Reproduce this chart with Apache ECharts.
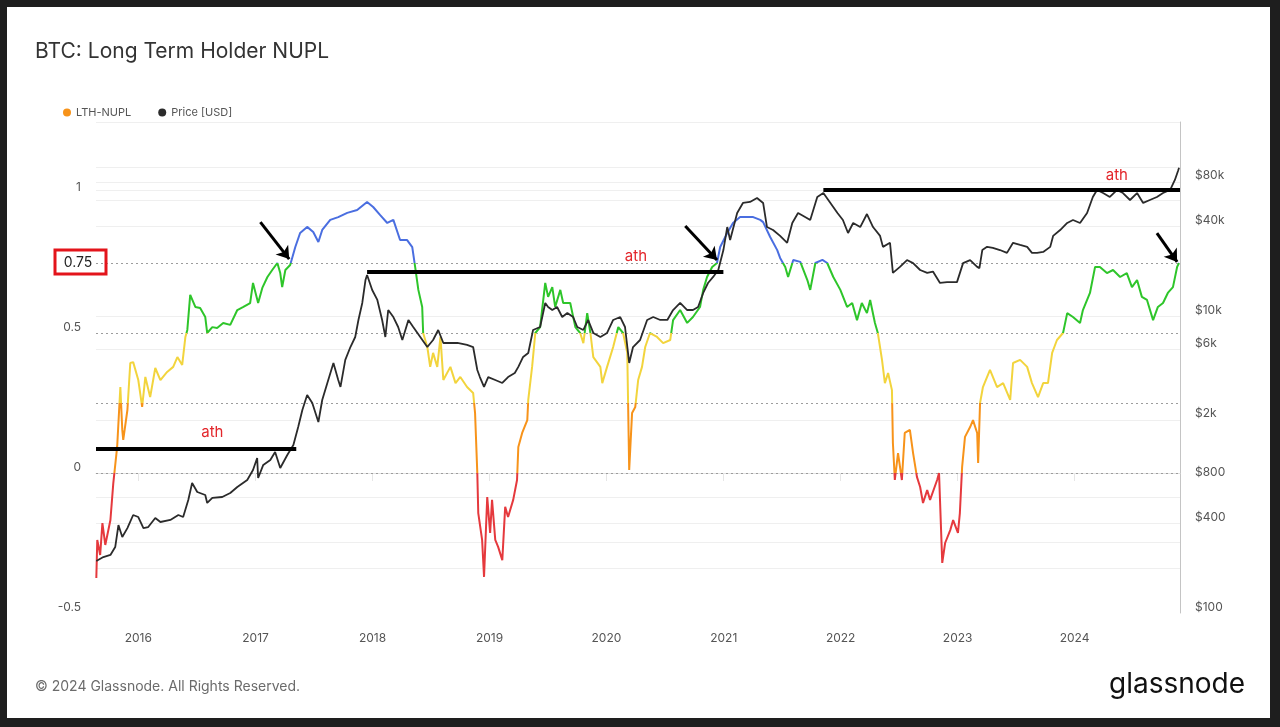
<!DOCTYPE html>
<html>
<head>
<meta charset="utf-8">
<script src="https://cdn.jsdelivr.net/npm/echarts@6/dist/echarts.min.js"></script>
<style>
  html, body { margin: 0; padding: 0; width: 1280px; height: 727px; background: #1e1e1e; overflow: hidden; }
  #card { position: absolute; left: 7px; top: 7px; width: 1263px; height: 711px; background: #ffffff; }
  #chart { position: absolute; left: 0; top: 0; width: 1280px; height: 727px; }
</style>
</head>
<body>
<div id="card"></div>
<div id="chart"></div>
<script>
// ---------- data ----------
const nuplDates = ['2015-08-23','2015-08-26','2015-09-04','2015-09-11','2015-09-20','2015-10-06','2015-10-15','2015-10-27','2015-11-06','2015-11-12','2015-11-15','2015-11-28','2015-12-07','2015-12-16',
'2016-01-01','2016-01-13','2016-01-23','2016-02-07','2016-02-23','2016-03-10','2016-03-31','2016-04-19','2016-05-02','2016-05-17','2016-05-27','2016-06-02','2016-06-11','2016-06-27','2016-07-12','2016-07-28','2016-08-03','2016-08-19','2016-09-03','2016-09-22','2016-10-14','2016-11-05','2016-11-24','2016-12-15','2016-12-24',
'2017-01-09','2017-01-22','2017-02-07','2017-02-22','2017-03-10','2017-03-19','2017-03-25','2017-04-04','2017-04-19','2017-05-05','2017-05-20','2017-06-11','2017-06-30','2017-07-16','2017-07-28','2017-08-22','2017-09-16','2017-10-14','2017-11-14','2017-12-15',
'2018-01-03','2018-01-25','2018-02-16','2018-03-07','2018-03-28','2018-04-19','2018-05-05','2018-05-14','2018-05-24','2018-06-05','2018-06-08','2018-06-21','2018-06-30','2018-07-09','2018-07-22','2018-08-01','2018-08-10','2018-09-01','2018-09-17','2018-10-02','2018-10-23','2018-11-11','2018-11-17','2018-11-24','2018-11-27','2018-12-09','2018-12-15','2018-12-25',
'2019-01-03','2019-01-09','2019-01-19','2019-01-28','2019-02-10','2019-02-19','2019-02-28','2019-03-16','2019-03-28','2019-04-01','2019-04-13','2019-04-29','2019-05-02','2019-05-14','2019-05-24','2019-06-08','2019-06-24','2019-07-03','2019-07-16','2019-07-25','2019-08-10','2019-08-19','2019-09-10','2019-09-26','2019-10-11','2019-10-21','2019-11-02','2019-11-12','2019-11-21','2019-12-13','2019-12-19',
'2020-01-03','2020-01-22','2020-02-07','2020-02-22','2020-03-06','2020-03-12','2020-03-21','2020-03-31','2020-04-09','2020-04-21','2020-05-01','2020-05-16','2020-06-07','2020-06-26','2020-07-18','2020-07-27','2020-08-18','2020-09-09','2020-09-27','2020-10-19','2020-10-29','2020-11-10','2020-11-26','2020-12-11','2020-12-21',
'2021-01-12','2021-01-30','2021-02-21','2021-03-15','2021-04-03','2021-04-25','2021-05-04','2021-05-26','2021-06-17','2021-06-26','2021-07-12','2021-07-21','2021-08-06','2021-08-28','2021-09-19','2021-09-28','2021-10-14','2021-11-05','2021-11-20','2021-12-09','2021-12-31',
'2022-01-21','2022-02-06','2022-02-21','2022-03-08','2022-03-24','2022-04-03','2022-04-18','2022-04-27','2022-05-10','2022-05-19','2022-05-29','2022-06-10','2022-06-13','2022-06-19','2022-06-29','2022-07-11','2022-07-20','2022-08-05','2022-08-15','2022-08-27','2022-09-06','2022-09-15','2022-09-28','2022-10-07','2022-10-29','2022-11-04','2022-11-14','2022-11-23','2022-12-09','2022-12-18',
'2023-01-02','2023-01-08','2023-01-15','2023-01-24','2023-02-09','2023-02-18','2023-03-03','2023-03-06','2023-03-12','2023-03-21','2023-04-12','2023-05-04','2023-05-23','2023-06-14','2023-06-23','2023-07-15','2023-08-06','2023-08-21','2023-09-09','2023-09-25','2023-10-10','2023-10-23','2023-11-07','2023-11-26','2023-12-09','2023-12-27',
'2024-01-18','2024-01-27','2024-02-18','2024-03-05','2024-03-20','2024-04-11','2024-04-30','2024-05-22','2024-06-12','2024-06-28','2024-07-14','2024-07-29','2024-08-14','2024-09-02','2024-09-17','2024-10-03','2024-10-18','2024-11-03','2024-11-16','2024-11-22'];
const nuplValues = [-0.375,-0.239,-0.293,-0.179,-0.257,-0.168,-0.036,0.093,0.307,0.154,0.118,0.225,0.393,0.396,
0.332,0.236,0.343,0.271,0.375,0.332,0.361,0.379,0.414,0.386,0.486,0.511,0.636,0.593,0.589,0.557,0.500,0.521,0.518,0.536,0.529,0.582,0.593,0.607,0.679,
0.607,0.661,0.700,0.725,0.750,0.714,0.664,0.725,0.743,0.807,0.857,0.879,0.861,0.825,0.868,0.904,0.914,0.929,0.939,0.968,
0.950,0.921,0.893,0.904,0.832,0.832,0.807,0.736,0.654,0.593,0.500,0.450,0.379,0.429,0.379,0.486,0.332,0.379,0.321,0.343,0.307,0.286,0.214,0.000,-0.143,-0.239,-0.371,-0.086,
-0.214,-0.096,-0.239,-0.264,-0.311,-0.121,-0.157,-0.096,-0.025,0.093,0.143,0.189,0.261,0.379,0.500,0.521,0.679,0.629,0.664,0.593,0.654,0.607,0.607,0.521,0.500,0.464,0.571,0.500,0.414,0.379,0.321,
0.379,0.450,0.521,0.500,0.429,0.011,0.214,0.236,0.332,0.379,0.450,0.500,0.486,0.464,0.475,0.546,0.582,0.536,0.557,0.593,0.654,0.700,0.736,0.750,0.807,
0.857,0.893,0.914,0.914,0.914,0.904,0.896,0.843,0.796,0.768,0.736,0.700,0.761,0.754,0.689,0.654,0.750,0.761,0.750,0.700,0.654,
0.593,0.607,0.546,0.607,0.571,0.618,0.536,0.500,0.404,0.321,0.357,0.296,0.107,-0.025,0.071,-0.025,0.143,0.154,0.071,-0.014,-0.050,-0.107,-0.061,-0.096,-0.025,0.000,-0.321,-0.250,-0.204,-0.168,
-0.214,-0.143,0.021,0.129,0.164,0.189,0.143,0.036,0.250,0.307,0.368,0.307,0.321,0.261,0.393,0.404,0.379,0.321,0.271,0.321,0.321,0.429,0.475,0.500,0.571,0.557,
0.536,0.582,0.643,0.736,0.736,0.714,0.725,0.700,0.714,0.664,0.689,0.629,0.618,0.546,0.593,0.607,0.643,0.664,0.736,0.750];

const priceDates = ['2015-08-23','2015-08-26','2015-09-14','2015-10-06','2015-10-21','2015-10-31','2015-11-12','2015-11-28','2015-12-16',
'2016-01-01','2016-01-17','2016-02-01','2016-02-23','2016-03-10','2016-04-10','2016-05-05','2016-05-20','2016-06-05','2016-06-17','2016-07-03','2016-07-28','2016-08-03','2016-08-19','2016-09-19','2016-10-14','2016-11-05','2016-12-06','2016-12-24',
'2017-01-06','2017-01-09','2017-01-25','2017-02-16','2017-03-03','2017-03-19','2017-04-10','2017-04-29','2017-05-14','2017-05-27','2017-06-11','2017-06-27','2017-07-16','2017-07-28','2017-08-13','2017-09-01','2017-09-16','2017-09-23','2017-10-08','2017-10-24','2017-11-08','2017-11-18','2017-11-30','2017-12-10','2017-12-15','2017-12-31',
'2018-01-16','2018-01-31','2018-02-10','2018-02-19','2018-03-07','2018-03-22','2018-04-04','2018-04-23','2018-05-08','2018-05-30','2018-06-21','2018-07-09','2018-07-25','2018-08-10','2018-09-01','2018-09-23','2018-10-23','2018-11-11','2018-11-24','2018-12-02','2018-12-15','2018-12-28',
'2019-01-19','2019-02-10','2019-02-28','2019-03-21','2019-04-01','2019-04-16','2019-05-02','2019-05-17','2019-06-08','2019-06-24','2019-07-03','2019-07-16','2019-07-31','2019-08-16','2019-09-01','2019-09-19','2019-10-02','2019-10-21','2019-11-05','2019-11-21','2019-12-13',
'2020-01-03','2020-01-22','2020-02-13','2020-02-28','2020-03-12','2020-03-24','2020-04-15','2020-05-07','2020-05-26','2020-06-17','2020-07-09','2020-07-27','2020-08-18','2020-09-09','2020-09-27','2020-10-13','2020-10-29','2020-11-13','2020-11-29','2020-12-15','2020-12-31',
'2021-01-12','2021-01-21','2021-02-12','2021-03-02','2021-03-24','2021-04-15','2021-05-04','2021-05-16','2021-06-04','2021-06-26','2021-07-18','2021-08-03','2021-08-21','2021-09-12','2021-09-28','2021-10-20','2021-11-08','2021-11-30','2021-12-22',
'2022-01-08','2022-01-24','2022-02-09','2022-03-03','2022-03-24','2022-04-12','2022-05-04','2022-05-13','2022-06-04','2022-06-13','2022-07-05','2022-07-27','2022-08-15','2022-09-06','2022-09-28','2022-10-16','2022-11-07','2022-11-29','2022-12-30',
'2023-01-18','2023-02-09','2023-03-03','2023-03-10','2023-03-19','2023-04-03','2023-04-21','2023-05-13','2023-06-04','2023-06-23','2023-07-15','2023-08-06','2023-08-21','2023-09-06','2023-09-25','2023-10-17','2023-10-26','2023-11-17','2023-12-09','2023-12-27',
'2024-01-18','2024-02-09','2024-02-27','2024-03-11','2024-03-30','2024-04-20','2024-05-12','2024-05-31','2024-06-22','2024-07-14','2024-08-02','2024-08-23','2024-09-14','2024-10-03','2024-10-25','2024-11-09','2024-11-19','2024-11-22'];
const priceValues = [224,227,238,246,278,391,325,373,457,
443,373,379,436,410,423,457,443,577,750,653,623,551,595,604,643,705,787,918,
1106,811,993,1072,1214,947,1159,1352,1790,2330,2938,2594,1932,2717,3539,4830,3707,3327,5058,6180,7220,9400,12240,17470,18880,14960,
12820,9400,7220,10970,9840,8430,6890,9400,8430,7220,6180,6890,8050,6580,6580,6580,6380,6180,4330,3880,3327,3880,
3707,3539,3880,4130,4540,5300,5636,8050,8430,12240,11500,10970,11500,9840,10470,9840,8430,8050,9400,7690,7220,
7690,9400,9840,8430,4830,6180,6890,9400,9840,9400,9400,10970,12240,10970,10970,11500,14290,16680,18320,20420,27800,
39720,32500,49400,57700,58600,62330,57700,39720,37930,34600,31100,42300,49400,46400,44300,63300,67300,57700,49400,
44300,36200,42300,39700,48600,39700,34600,29200,31100,19500,21400,23800,22700,20400,19500,19900,16700,16900,16900,
22700,23800,21400,21000,27800,29200,28700,27800,26600,31100,30100,29200,26600,26600,27000,29200,34600,37900,42300,44300,
42300,49400,63300,70500,67300,63300,70500,67300,60400,67300,57700,60400,63300,67300,70500,82400,95000,99500];

// axis ticks and labels
const yearTicks = [2016,2017,2018,2019,2020,2021,2022,2023,2024];
const nuplTicks = [-0.5, 0, 0.5, 1];
const priceTicks = [100, 400, 800, 2000, 6000, 10000, 40000, 80000];
const priceGridValues = [200, 300, 400, 600, 2000, 6000, 10000, 40000, 60000, 70000, 80000, 100000];
const nuplThresholds = [0, 0.25, 0.5, 0.75];
const nuplBands = [
  { lt: 0, color: '#e5393d' },
  { gte: 0, lt: 0.25, color: '#f7931a' },
  { gte: 0.25, lt: 0.5, color: '#f2d43d' },
  { gte: 0.5, lt: 0.75, color: '#2ec52a' },
  { gte: 0.75, color: '#4a6ee0' }
];

// annotations (data space)
const athPrice = [1270, 19950, 71100];
const athStart = ['2015-08-22', '2017-12-15', '2021-11-08'];
const athEnd = ['2017-05-08', '2020-12-31', '2024-11-25'];
const athLabelDate = ['2016-08-19', '2020-04-02', '2024-05-12'];
const athLabelPrice = [1655, 25350, 89000];
const arrowFrom = [['2017-01-16', 0.896], ['2020-09-03', 0.882], ['2024-09-14', 0.857]];
const arrowTo = [['2017-04-16', 0.764], ['2020-12-11', 0.761], ['2024-11-16', 0.754]];

const xMin = '2015-08-22', xMax = '2024-11-25';
const nuplMin = -0.5, nuplMax = 1.2536;
const priceMin = 100, priceMax = 202400;

// ---------- build ----------
const FONT = 'Inter, "Noto Sans", "DejaVu Sans", sans-serif';
const ts = s => { const p = s.split('-').map(Number); return new Date(p[0], p[1] - 1, p[2]).getTime(); };
const nuplData = nuplDates.map((d, i) => [ts(d), nuplValues[i]]);
const priceData = priceDates.map((d, i) => [ts(d), priceValues[i]]);
const yearTs = yearTicks.map(y => new Date(y, 0, 1).getTime());
const fmtPrice = v => v >= 1000 ? '$' + (v / 1000) + 'k' : '$' + v;

const chart = echarts.init(document.getElementById('chart'), null, { renderer: 'canvas' });
chart.setOption({
  animation: false,
  backgroundColor: 'transparent',
  textStyle: { fontFamily: FONT },
  title: {
    text: 'BTC: Long Term Holder NUPL',
    left: 30, top: 36,
    textStyle: { fontFamily: FONT, fontSize: 21, fontWeight: 'normal', color: '#333' }
  },
  legend: {
    data: ['LTH-NUPL', 'Price [USD]'],
    left: 58, top: 102,
    icon: 'circle', itemWidth: 8, itemHeight: 8, itemGap: 27,
    textStyle: { fontFamily: FONT, fontSize: 11, color: '#555' }
  },
  grid: { left: 96, right: 100, top: 122, bottom: 114 },
  visualMap: {
    type: 'piecewise', show: false, seriesIndex: 2, dimension: 1,
    pieces: nuplBands
  },
  xAxis: {
    type: 'value', min: ts(xMin), max: ts(xMax), scale: true,
    axisLine: { lineStyle: { color: '#e2e2e2' } },
    axisTick: { show: true, length: 8, customValues: yearTs, lineStyle: { color: '#e6e6e6' } },
    axisLabel: { customValues: yearTs, formatter: v => String(new Date(v).getFullYear()), color: '#555', fontSize: 12, margin: 19, fontFamily: FONT },
    splitLine: { show: false }
  },
  yAxis: [
    {
      type: 'value', min: nuplMin, max: nuplMax, position: 'left',
      axisLine: { show: false }, axisTick: { show: false }, splitLine: { show: false },
      axisLabel: { customValues: nuplTicks, formatter: v => String(v), verticalAlign: 'bottom', color: '#555', fontSize: 12, margin: 15, fontFamily: FONT }
    },
    {
      type: 'log', min: priceMin, max: priceMax, position: 'right', logBase: 10,
      axisLine: { show: true, lineStyle: { color: '#c4c4c4' } }, axisTick: { show: false }, splitLine: { show: false },
      axisLabel: { customValues: priceTicks, formatter: fmtPrice, verticalAlign: 'bottom', color: '#555', fontSize: 12, margin: 15, fontFamily: FONT }
    }
  ],
  series: [
    {
      name: 'grid', type: 'line', yAxisIndex: 1, data: [], z: 1,
      markLine: {
        silent: true, animation: false, z: 1, symbol: ['none', 'none'], label: { show: false },
        lineStyle: { color: '#efefef', type: 'solid', width: 1 },
        data: [...priceGridValues, priceMax].map(v => ({ yAxis: v }))
      }
    },
    {
      name: 'thresholds', type: 'line', yAxisIndex: 0, data: [], z: 1,
      markLine: {
        silent: true, animation: false, z: 2, symbol: ['none', 'none'], label: { show: false },
        lineStyle: { color: '#9c9c9c', type: [2, 3], width: 1 },
        data: nuplThresholds.map(v => ({ yAxis: v }))
      }
    },
    {
      name: 'LTH-NUPL', type: 'line', yAxisIndex: 0, data: nuplData, z: 3,
      showSymbol: false, symbol: 'none', color: '#f7931a',
      lineStyle: { width: 2 },
      markLine: {
        silent: true, animation: false, z: 6, symbol: ['none', 'none'],
        label: { show: false },
        data: arrowFrom.map((f, i) => [
          { coord: [ts(f[0]), f[1]], symbol: 'none', lineStyle: { color: '#000', width: 3, type: 'solid' } },
          { coord: [ts(arrowTo[i][0]), arrowTo[i][1]], symbol: 'arrow', symbolSize: 12 }
        ])
      }
    },
    {
      name: 'Price [USD]', type: 'line', yAxisIndex: 1, data: priceData, z: 4, clip: false,
      showSymbol: false, symbol: 'none', color: '#2b2b2b',
      lineStyle: { width: 1.8, color: '#2b2b2b' },
      markLine: {
        silent: true, animation: false, z: 6, symbol: ['none', 'none'],
        label: { show: false },
        data: athPrice.map((p, i) => [
          { coord: [ts(athStart[i]), p], lineStyle: { color: '#000', width: 4, type: 'solid' } },
          { coord: [ts(athEnd[i]), p] }
        ])
      },
      markPoint: {
        silent: true, symbol: 'circle', symbolSize: 0,
        label: { show: true, position: 'inside', formatter: 'ath', color: '#e3262b', fontSize: 15, fontFamily: FONT },
        data: athLabelDate.map((d, i) => ({ coord: [ts(d), athLabelPrice[i]] }))
      }
    }
  ],
  graphic: [
    { type: 'rect', shape: { x: 55, y: 250, width: 51, height: 24 }, style: { fill: 'none', stroke: '#e3141b', lineWidth: 3 }, z: 100 },
    { type: 'text', x: 78, y: 263, style: { text: '0.75', fill: '#222', font: '14px ' + FONT, textAlign: 'center', textVerticalAlign: 'middle' }, z: 100 },
    { type: 'text', x: 35, y: 687, style: { text: '© 2024 Glassnode. All Rights Reserved.', fill: '#6b6b6b', font: '14px ' + FONT, textVerticalAlign: 'middle' } },
    { type: 'text', x: 1245, y: 685, style: { text: 'glassnode', fill: '#111', font: '28px ' + FONT, textAlign: 'right', textVerticalAlign: 'middle' } }
  ]
});
</script>
</body>
</html>
